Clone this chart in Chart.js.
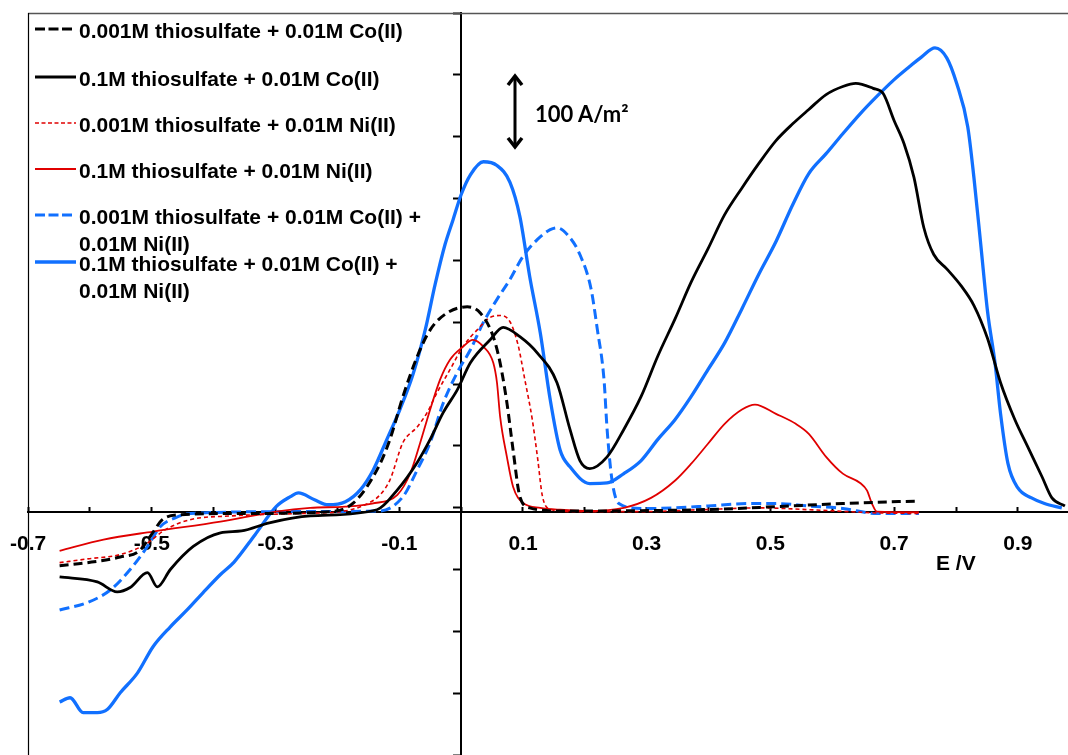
<!DOCTYPE html>
<html><head><meta charset="utf-8">
<script src="https://cdn.jsdelivr.net/npm/chart.js@4.4.1/dist/chart.umd.min.js"></script>
<style>
html,body{margin:0;padding:0;background:#fff;}
#wrap{position:relative;width:1068px;height:755px;overflow:hidden;}
#c{position:absolute;left:0;top:0;}
.t{position:absolute;font:bold 21px "Liberation Sans",Arial,sans-serif;color:#000;white-space:nowrap;line-height:27px;}
.s{position:absolute;left:35px;}
#ann{position:absolute;left:535px;top:100px;font:bold 22px Lato,"Open Sans",sans-serif;white-space:nowrap;line-height:27px;}
</style></head>
<body><div id="wrap">
<canvas id="c" width="1068" height="755"></canvas>
<div id="legend"></div>
<svg style="position:absolute;left:505px;top:72px" width="20" height="80">
<line x1="10" y1="5" x2="10" y2="74" stroke="#000" stroke-width="3"/>
<polyline points="3,13 10,4 17,13" fill="none" stroke="#000" stroke-width="3.5"/>
<polyline points="3,66 10,75 17,66" fill="none" stroke="#000" stroke-width="3.5"/>
</svg>
<div id="ann">100 A/m²</div>
<div class="t" style="left:936px;top:549px;">E /V</div>
</div>
<script>
// x tick labels
const xTickLabels = ['-0.7','-0.5','-0.3','-0.1','0.1','0.3','0.5','0.7','0.9'];

// legend labels
const seriesNames = [
  ['0.001M thiosulfate + 0.01M Co(II)'],
  ['0.1M thiosulfate + 0.01M Co(II)'],
  ['0.001M thiosulfate + 0.01M Ni(II)'],
  ['0.1M thiosulfate + 0.01M Ni(II)'],
  ['0.001M thiosulfate + 0.01M Co(II) +', '0.01M Ni(II)'],
  ['0.1M thiosulfate + 0.01M Co(II) +', '0.01M Ni(II)']
];

// 0.001M thiosulfate + Co(II)  (E in V, j in A/m2)
const coLowE = [-0.649,-0.604,-0.551,-0.520,-0.500,-0.483,-0.456,-0.341,-0.212,-0.174,-0.136,-0.115,-0.094,-0.071,-0.050,-0.023,0.010,0.031,0.052,0.063,0.074,0.084,0.095,0.111,0.160,0.334,0.420,0.509,0.617,0.672,0.740];
const coLowJ = [-86,-81,-72,-62,-35,-12,-4,-2,1,15,68,117,186,250,293,320,330,320,282,240,176,100,25,7,2,3,5,9,14,16,18];

// 0.1M thiosulfate + Co(II)
const coHighE = [-0.649,-0.588,-0.556,-0.535,-0.507,-0.491,-0.470,-0.433,-0.389,-0.355,-0.310,-0.244,-0.136,-0.103,-0.071,-0.050,-0.029,-0.006,0.015,0.047,0.068,0.095,0.123,0.155,0.176,0.192,0.208,0.236,0.263,0.291,0.318,0.346,0.372,0.399,0.426,0.454,0.481,0.509,0.536,0.562,0.590,0.617,0.638,0.666,0.682,0.700,0.716,0.732,0.748,0.764,0.785,0.808,0.829,0.851,0.872,0.895,0.916,0.939,0.955,0.976];
const coHighJ = [-104,-112,-128,-121,-97,-120,-92,-55,-33,-30,-17,-6,4,36,80,117,160,197,240,277,297,282,256,208,133,83,70,89,133,186,251,311,370,423,478,521,560,597,624,647,671,684,689,681,673,629,592,538,457,414,391,364,332,279,208,149,105,57,23,10];

// 0.001M thiosulfate + Ni(II)
const niLowE = [-0.649,-0.604,-0.551,-0.511,-0.478,-0.438,-0.373,-0.260,-0.195,-0.155,-0.131,-0.115,-0.094,-0.071,-0.055,-0.039,-0.018,0.003,0.026,0.047,0.063,0.079,0.092,0.103,0.115,0.124,0.131,0.141,0.176,0.289,0.386,0.483,0.564,0.672,0.740];
const niLowJ = [-81,-75,-68,-52,-28,-12,-6,-2,1,12,28,52,112,137,160,192,229,266,293,313,316,306,269,213,149,84,28,6,1,1,4,7,4,-1,-2];

// 0.1M thiosulfate + Ni(II)
const niHighE = [-0.649,-0.578,-0.498,-0.389,-0.299,-0.244,-0.187,-0.144,-0.103,-0.082,-0.066,-0.050,-0.034,-0.018,0.003,0.019,0.036,0.052,0.058,0.063,0.074,0.084,0.100,0.128,0.160,0.208,0.263,0.307,0.346,0.372,0.399,0.426,0.454,0.475,0.509,0.541,0.562,0.590,0.617,0.645,0.656,0.664,0.672,0.740];
const niHighJ = [-62,-44,-31,-15,1,7,9,14,28,63,112,165,213,245,266,277,266,240,208,154,89,41,15,7,4,2,7,23,51,78,110,142,165,173,158,142,126,89,62,47,35,14,1,0];

// 0.001M thiosulfate + Co(II) + Ni(II)
const coNiLowE = [-0.649,-0.604,-0.567,-0.535,-0.507,-0.486,-0.462,-0.438,-0.260,-0.132,-0.094,-0.071,-0.050,-0.029,-0.006,0.015,0.036,0.058,0.079,0.100,0.123,0.144,0.155,0.176,0.192,0.210,0.220,0.231,0.236,0.244,0.255,0.291,0.346,0.399,0.465,0.509,0.562,0.617,0.672,0.740];
const coNiLowJ = [-157,-145,-125,-92,-55,-23,-9,-2,1,2,25,68,112,175,225,261,305,342,374,411,438,454,457,441,414,359,295,213,133,51,14,6,7,10,14,14,10,6,-2,-2];

// 0.1M thiosulfate + Co(II) + Ni(II)
const coNiHighE = [-0.649,-0.632,-0.611,-0.588,-0.572,-0.551,-0.523,-0.498,-0.470,-0.443,-0.417,-0.389,-0.367,-0.333,-0.299,-0.276,-0.263,-0.237,-0.215,-0.187,-0.163,-0.142,-0.120,-0.099,-0.078,-0.058,-0.042,-0.026,-0.013,0.000,0.015,0.036,0.058,0.079,0.095,0.111,0.128,0.144,0.160,0.176,0.208,0.236,0.263,0.291,0.318,0.346,0.372,0.399,0.426,0.454,0.481,0.509,0.536,0.562,0.590,0.617,0.645,0.672,0.700,0.725,0.745,0.766,0.785,0.801,0.819,0.829,0.840,0.851,0.863,0.872,0.884,0.900,0.922,0.943,0.971];
const coNiHighJ = [-305,-298,-322,-322,-317,-290,-258,-216,-184,-157,-129,-100,-80,-36,9,25,31,20,12,17,36,68,117,165,221,293,366,430,470,510,542,563,557,530,475,378,288,181,100,73,46,47,62,83,117,149,186,229,272,327,382,435,494,544,576,608,640,668,695,716,732,746,730,689,619,537,430,322,240,158,78,39,23,14,7];

const BLUE = '#1170ff', RED = '#e00000', BLACK = '#000000';
const styles = [
  {color: BLACK, width: 3, dash: [9,5]},
  {color: BLACK, width: 2.8, dash: []},
  {color: RED, width: 1.6, dash: [4,3]},
  {color: RED, width: 1.8, dash: []},
  {color: BLUE, width: 3, dash: [10,5]},
  {color: BLUE, width: 3.3, dash: []}
];
const seriesE = [coLowE, coHighE, niLowE, niHighE, coNiLowE, coNiHighE];
const seriesJ = [coLowJ, coHighJ, niLowJ, niHighJ, coNiLowJ, coNiHighJ];

const datasets = seriesE.map((E, k) => ({
  label: seriesNames[k].join(' '),
  data: E.map((x, i) => ({x: x, y: seriesJ[k][i]})),
  borderColor: styles[k].color,
  borderWidth: styles[k].width,
  borderDash: styles[k].dash,
  pointRadius: 0,
  fill: false,
  cubicInterpolationMode: 'monotone'
}));

// HTML legend
const legendTops = [29, 77, 123, 169, 215, 262];
const lg = document.getElementById('legend');
seriesNames.forEach((lines, k) => {
  const c = legendTops[k];
  const st = styles[k];
  const svg = `<svg class="s" style="top:${c-5}px" width="42" height="10"><line x1="0" y1="5" x2="${k===0||k===4?37:41}" y2="5" stroke="${st.color}" stroke-width="${st.width}" stroke-dasharray="${st.dash.length? (k===2?'4,2.5':'10,3.5') : 'none'}"/></svg>`;
  lg.insertAdjacentHTML('beforeend', svg);
  lines.forEach((txt, j) => {
    const d = document.createElement('div');
    d.className = 't';
    d.style.left = '79px';
    d.style.top = (c + 1 - 13.5 + j * 27) + 'px';
    d.textContent = txt;
    lg.appendChild(d);
  });
});

const framePlugin = {
  id: 'frame',
  beforeDatasetsDraw(chart) {
    const {ctx, chartArea: a} = chart;
    ctx.save();
    ctx.strokeStyle = '#555';
    ctx.lineWidth = 1.5;
    ctx.beginPath(); ctx.moveTo(a.left, a.top + 0.5); ctx.lineTo(a.right, a.top + 0.5); ctx.stroke();
    ctx.strokeStyle = '#000';
    ctx.lineWidth = 1.2;
    ctx.beginPath(); ctx.moveTo(a.left + 0.5, a.top); ctx.lineTo(a.left + 0.5, a.bottom); ctx.stroke();
    ctx.restore();
  }
};

new Chart(document.getElementById('c'), {
  type: 'line',
  data: {datasets: datasets},
  plugins: [framePlugin],
  options: {
    responsive: false,
    devicePixelRatio: 1,
    animation: false,
    layout: {padding: {left: 28, top: 13, right: 0, bottom: 0}},
    plugins: {legend: {display: false}, tooltip: {enabled: false}},
    scales: {
      x: {
        type: 'linear', min: -0.7001, max: 0.981,
        position: {y: 0},
        afterFit(s) { s.height = 0; s.paddingLeft = 0; s.paddingRight = 0; s.paddingTop = 0; s.paddingBottom = 0; },
        grid: {drawOnChartArea: false, drawTicks: true, tickLength: -6, tickWidth: 2, tickColor: '#000'},
        border: {display: true, color: '#000', width: 2},
        ticks: {
          stepSize: 0.1, includeBounds: false, autoSkip: false, maxRotation: 0, minRotation: 0,
          padding: 25, color: '#000',
          font: {family: '"Liberation Sans", Arial, sans-serif', size: 21, weight: 'bold'},
          callback: (v) => { const s = (Math.round(v * 10) / 10).toFixed(1); return xTickLabels.includes(s) ? s : ''; }
        }
      },
      y: {
        type: 'linear', min: -390, max: 802,
        position: {x: 0},
        afterFit(s) { s.width = 0; s.paddingLeft = 0; s.paddingRight = 0; s.paddingTop = 0; s.paddingBottom = 0; },
        grid: {drawOnChartArea: false, drawTicks: true, tickLength: 7, tickWidth: 2, tickColor: '#000'},
        border: {display: true, color: '#000', width: 2},
        ticks: {display: false, stepSize: 100, includeBounds: false}
      }
    }
  }
});
</script>
</body></html>
